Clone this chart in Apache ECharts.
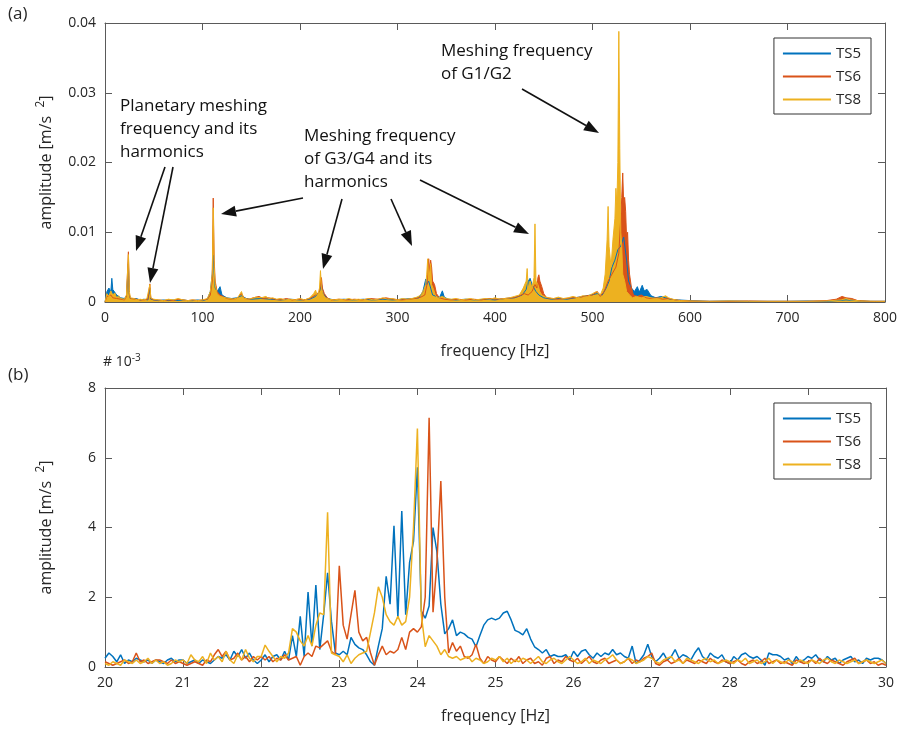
<!DOCTYPE html>
<html>
<head>
<meta charset="utf-8">
<script src="https://cdn.jsdelivr.net/npm/echarts@6/dist/echarts.min.js"></script>
<style>
  html, body { margin: 0; padding: 0; background: #fff; }
  #chart { width: 900px; height: 729px; }
</style>
</head>
<body>
<div id="chart"></div>
<script>
// colours of the three sensors
const colTS5 = '#0072BD', colTS6 = '#D95319', colTS8 = '#EDB120';
const names = ['TS5', 'TS6', 'TS8'];

// (a) spectrum 0-800 Hz, pairs [freq Hz, amplitude x1e-3 m/s^2]
const topTS5 = [[0,0],[2,1.5],[4,2.0],[6,1.5],[7,3.4],[8,1.8],[10,2.0],[12,1.0],[14,1.2],[16,0.6],[18,0.8],[20,0.5],[22,0.9],[24,5.5],[25,1.0],[26,0.5],[28,0.4],[32,0.5],[36,0.3],[40,0.4],[44,0.3],[46,2.0],[47,0.4],[50,0.3],[55,0.2],[60,0.3],[65,0.2],[70,0.3],[75,0.2],[80,0.3],[85,0.2],[90,0.2],[95,0.3],[100,0.2],[105,0.4],[108,1.5],[110,4],[111,6.7],[112,4],[113,2],[115,1.5],[118,2.2],[120,1.0],[125,0.6],[130,0.5],[135,0.6],[140,0.9],[145,0.5],[150,0.4],[160,0.5],[170,0.4],[180,0.3],[190,0.4],[200,0.3],[210,0.4],[216,0.8],[220,1.5],[222,2.5],[224,1.2],[228,0.5],[235,0.3],[245,0.4],[255,0.3],[265,0.4],[275,0.3],[285,0.4],[295,0.3],[305,0.4],[315,0.5],[322,0.6],[326,1.5],[329,3.3],[330,2.5],[332,3.0],[334,2.0],[336,1.0],[340,0.8],[343,0.6],[346,1.6],[348,0.7],[352,0.4],[360,0.3],[370,0.4],[380,0.3],[390,0.4],[400,0.3],[410,0.5],[420,0.6],[428,1.0],[432,1.8],[434,3.0],[436,3.4],[438,2.5],[440,2.0],[442,1.5],[445,1.0],[450,0.6],[458,0.4],[466,0.5],[474,0.4],[482,0.6],[490,0.8],[498,1.0],[505,1.2],[510,1.0],[514,2.0],[517,3],[520,5],[523,6],[526,7.5],[529,8],[532,9.3],[535,6],[537,3],[540,2.0],[543,1.5],[546,2.2],[548,1.4],[551,2.4],[553,1.6],[556,1.8],[560,0.9],[565,0.6],[570,0.8],[575,0.6],[580,0.4],[588,0.3],[600,0.2],[620,0.1],[640,0.15],[660,0.1],[680,0.1],[700,0.1],[720,0.15],[740,0.1],[760,0.3],[770,0.2],[785,0.1],[800,0.1]];
const topTS6 = [[0,0],[2,0.8],[4,0.6],[6,1.0],[8,0.6],[10,0.8],[12,0.5],[14,0.6],[16,0.4],[18,0.5],[20,0.3],[22,0.8],[24,7.2],[25,1.2],[26,0.5],[28,0.3],[32,0.4],[36,0.3],[40,0.3],[44,0.4],[46,2.6],[47,0.5],[50,0.3],[55,0.3],[60,0.2],[65,0.3],[70,0.2],[75,0.4],[80,0.3],[85,0.2],[90,0.3],[95,0.2],[100,0.3],[105,0.4],[108,1.0],[110,3],[111,14.9],[112,6],[113,3],[115,1.5],[118,1.0],[120,0.8],[125,0.5],[130,0.4],[135,0.5],[140,1.2],[143,0.5],[148,0.4],[152,0.6],[158,0.8],[162,0.5],[168,0.6],[174,0.4],[180,0.3],[186,0.5],[192,0.3],[198,0.4],[204,0.3],[210,0.5],[216,1.0],[220,1.5],[222,3.5],[223,2.0],[225,1.2],[228,0.6],[232,0.3],[240,0.4],[248,0.3],[256,0.4],[264,0.3],[272,0.5],[280,0.4],[288,0.6],[296,0.4],[304,0.3],[312,0.4],[318,0.5],[324,0.7],[328,1.0],[331,3],[332,6.2],[333,4.5],[334,6.0],[335,5.0],[336,3.0],[338,2.5],[340,1.2],[343,0.6],[348,0.4],[355,0.3],[362,0.4],[370,0.3],[378,0.4],[386,0.3],[394,0.5],[402,0.4],[410,0.5],[418,0.6],[424,0.8],[430,1.2],[434,1.0],[438,1.5],[441,2.5],[443,2.0],[444,3.5],[445,3.9],[446,3.0],[448,2.2],[450,1.2],[453,0.6],[458,0.5],[465,0.4],[472,0.5],[480,0.6],[488,0.7],[494,0.9],[500,1.0],[505,1.5],[508,0.8],[512,1.5],[516,3],[520,4],[524,5],[527,7],[529,12],[530,15],[531,18.5],[532,14],[533,15],[534,13],[535,9],[536,10],[537,6],[538,4],[540,2],[542,1.0],[546,0.8],[550,1.0],[555,0.6],[560,0.5],[566,0.6],[572,0.4],[578,0.5],[585,0.3],[592,0.2],[600,0.15],[620,0.1],[640,0.1],[660,0.15],[680,0.1],[700,0.1],[720,0.1],[740,0.2],[750,0.4],[756,0.8],[760,0.6],[766,0.5],[772,0.2],[785,0.1],[800,0.1]];
const topTS8 = [[0,0],[2,1.2],[4,0.8],[6,1.6],[8,1.0],[10,1.3],[12,0.6],[14,0.9],[16,0.5],[18,0.7],[20,0.4],[22,1.0],[24,6.8],[25,1.5],[26,0.6],[28,0.4],[30,0.5],[33,0.3],[36,0.4],[40,0.3],[43,0.5],[46,2.5],[47,0.6],[50,0.4],[55,0.3],[60,0.2],[65,0.4],[70,0.3],[75,0.5],[80,0.3],[85,0.2],[90,0.3],[95,0.2],[100,0.3],[105,0.5],[108,1.5],[110,4],[111,13.5],[112,5],[113,2.5],[115,1.2],[118,0.8],[120,1.0],[124,0.6],[128,0.5],[132,0.4],[136,0.6],[140,1.5],[142,0.6],[146,0.4],[150,0.5],[155,0.7],[160,0.6],[165,0.8],[168,0.5],[172,0.6],[176,0.4],[180,0.5],[185,0.3],[190,0.4],[195,0.3],[200,0.5],[205,0.3],[210,0.6],[214,1.2],[216,1.7],[218,0.8],[220,2.0],[221,4.5],[222,2.0],[224,1.0],[226,0.6],[230,0.4],[235,0.3],[240,0.4],[245,0.3],[250,0.5],[255,0.3],[260,0.4],[265,0.3],[270,0.5],[275,0.3],[280,0.4],[285,0.6],[290,0.4],[295,0.5],[300,0.3],[305,0.5],[310,0.4],[315,0.5],[320,0.7],[324,1.0],[327,1.8],[329,2.5],[330,4.0],[331,6.2],[332,3.0],[334,5.5],[335,2.5],[337,1.8],[339,0.9],[342,0.6],[346,0.8],[350,0.5],[355,0.4],[360,0.5],[365,0.3],[370,0.4],[375,0.5],[380,0.3],[385,0.4],[390,0.5],[395,0.4],[400,0.6],[405,0.4],[410,0.5],[415,0.6],[420,0.8],[425,1.0],[429,2.0],[432,3.0],[433,4.8],[434,2.0],[436,3.0],[438,2.0],[440,3.5],[441,11.2],[442,3.0],[444,2.5],[446,1.5],[448,1.0],[452,0.7],[456,0.6],[460,0.5],[465,0.7],[470,0.5],[475,0.6],[480,0.8],[485,0.6],[490,0.9],[495,0.8],[500,1.2],[504,1.5],[508,1.0],[511,2.0],[513,4.0],[515,9],[516,13.7],[517,8],[519,5],[521,9],[523,12],[524,16.3],[525,14],[526,20],[527,38.8],[528,22],[529,10],[530,8],[531,4],[533,3],[535,1.5],[538,1.0],[541,0.6],[545,0.8],[550,0.6],[555,0.8],[560,0.6],[565,0.5],[570,0.6],[575,0.9],[578,0.6],[582,0.4],[586,0.3],[590,0.2],[600,0.15],[620,0.1],[640,0.15],[660,0.1],[680,0.1],[700,0.1],[720,0.1],[740,0.15],[755,0.3],[760,0.5],[765,0.3],[775,0.15],[790,0.1],[800,0.1]];

// (b) zoom 20-30 Hz, one value every 0.05 Hz, amplitude x1e-3 m/s^2
const fStart = 20, fStep = 0.05;
const botTS5 = [
  0.25,0.4,0.3,0.15,0.35,0.1,0.2,0.15,0.25,0.2,0.15,0.2,0.1,0.2,0.15,0.1,0.2,0.25,0.15,0.2,
  0.2,0.1,0.15,0.2,0.1,0.2,0.15,0.1,0.2,0.3,0.25,0.35,0.2,0.45,0.3,0.5,0.25,0.4,0.2,0.1,
  0.2,0.35,0.15,0.3,0.35,0.2,0.45,0.2,0.9,0.3,1.45,0.3,2.15,0.6,2.35,0.5,1.5,2.7,1.3,0.4,
  0.35,0.45,0.35,0.85,0.65,0.55,0.5,0.35,0.15,0.05,0.6,1.1,2.6,1.8,4.05,1.4,4.47,1.5,3.0,3.6,
  5.73,1.6,1.4,1.75,4.0,3.3,1.8,0.95,1.1,1.35,0.9,1.0,0.95,0.85,0.8,0.58,0.9,1.2,1.35,1.4,
  1.35,1.4,1.55,1.6,1.35,1.05,1.0,0.92,1.1,0.8,0.58,0.5,0.4,0.5,0.3,0.35,0.3,0.3,0.35,0.2,
  0.45,0.3,0.45,0.5,0.35,0.25,0.4,0.3,0.4,0.35,0.5,0.35,0.4,0.3,0.25,0.6,0.1,0.2,0.35,0.65,
  0.3,0.15,0.25,0.4,0.2,0.3,0.5,0.25,0.35,0.3,0.2,0.4,0.55,0.3,0.2,0.4,0.3,0.25,0.35,0.15,
  0.1,0.3,0.2,0.35,0.4,0.3,0.25,0.3,0.2,0.05,0.4,0.35,0.35,0.3,0.2,0.25,0.1,0.3,0.15,0.2,
  0.3,0.25,0.35,0.2,0.15,0.3,0.2,0.25,0.1,0.2,0.25,0.3,0.15,0.2,0.1,0.25,0.2,0.25,0.25,0.2,
  0.1];
const botTS6 = [
  0.15,0.1,0.05,0.1,0.15,0.2,0.1,0.15,0.4,0.15,0.2,0.1,0.15,0.2,0.2,0.15,0.1,0.2,0.1,0.15,
  0.1,0.05,0.1,0.15,0.1,0.05,0.2,0.15,0.35,0.5,0.3,0.45,0.2,0.25,0.4,0.2,0.3,0.15,0.3,0.2,
  0.3,0.2,0.3,0.15,0.25,0.2,0.35,0.2,0.25,0.3,0.05,0.3,0.4,0.3,0.6,0.55,0.65,0.75,0.45,0.35,
  2.9,1.2,0.8,1.5,2.2,1.0,0.75,0.85,0.4,0.05,0.35,0.6,0.35,0.45,0.4,0.5,0.85,0.5,1.0,1.1,
  1.0,1.15,2.0,7.15,1.57,3.0,5.33,2.0,0.4,0.7,0.45,0.6,0.3,0.25,0.35,0.65,0.25,0.1,0.3,0.2,
  0.15,0.3,0.2,0.1,0.25,0.15,0.3,0.1,0.2,0.25,0.1,0.15,0.05,0.25,0.3,0.1,0.2,0.15,0.3,0.2,
  0.15,0.25,0.1,0.2,0.3,0.15,0.1,0.2,0.25,0.1,0.15,0.2,0.1,0.15,0.25,0.1,0.2,0.15,0.25,0.3,
  0.4,0.1,0.05,0.15,0.2,0.1,0.15,0.25,0.1,0.2,0.15,0.1,0.2,0.15,0.1,0.25,0.15,0.1,0.2,0.15,
  0.1,0.15,0.2,0.1,0.05,0.15,0.2,0.1,0.15,0.25,0.1,0.15,0.2,0.1,0.15,0.1,0.05,0.2,0.15,0.1,
  0.15,0.2,0.1,0.25,0.15,0.1,0.2,0.15,0.1,0.05,0.15,0.2,0.25,0.1,0.15,0.2,0.1,0.15,0.05,0.1,
  0.05];
const botTS8 = [
  0.1,0.05,0.15,0.1,0.05,0.2,0.15,0.1,0.2,0.1,0.15,0.25,0.1,0.2,0.1,0.15,0.05,0.1,0.2,0.15,
  0.2,0.1,0.35,0.2,0.15,0.3,0.1,0.4,0.2,0.3,0.15,0.45,0.2,0.1,0.35,0.2,0.5,0.25,0.15,0.3,
  0.3,0.63,0.45,0.3,0.15,0.3,0.25,0.4,1.1,1.0,0.75,0.6,0.9,0.6,1.2,1.55,1.5,4.44,0.4,0.35,
  0.3,0.15,0.35,0.1,0.25,0.35,0.4,0.45,1.0,1.55,2.3,2.0,1.5,1.3,1.2,1.45,1.2,1.3,2.0,4.0,
  6.84,1.5,0.58,0.9,0.75,0.6,0.35,0.5,0.3,0.25,0.3,0.2,0.25,0.3,0.15,0.25,0.2,0.1,0.15,0.25,
  0.2,0.3,0.15,0.25,0.1,0.2,0.15,0.25,0.2,0.1,0.2,0.3,0.15,0.1,0.2,0.25,0.15,0.1,0.2,0.3,
  0.2,0.1,0.15,0.25,0.1,0.2,0.15,0.1,0.2,0.25,0.35,0.2,0.1,0.15,0.25,0.2,0.1,0.15,0.2,0.3,
  0.25,0.15,0.1,0.2,0.25,0.3,0.15,0.2,0.1,0.25,0.2,0.15,0.1,0.2,0.25,0.15,0.2,0.1,0.15,0.2,
  0.15,0.1,0.2,0.15,0.25,0.1,0.15,0.2,0.1,0.15,0.25,0.1,0.2,0.15,0.1,0.2,0.15,0.1,0.2,0.15,
  0.1,0.2,0.15,0.1,0.2,0.25,0.15,0.1,0.2,0.15,0.1,0.15,0.2,0.1,0.15,0.2,0.15,0.1,0.15,0.2,
  0.1];

// pair the 0.05 Hz frequency grid with the values
function withFreq(vals) {
  return vals.map((v, i) => [+(fStart + i * fStep).toFixed(2), v]);
}

const font = 'Open Sans';
const txt = '#262626';
const axCol = '#5a5a5a';

function xAx(grid, min, max, step, pos, withName) {
  return {
    gridIndex: grid, type: 'value', min: min, max: max, interval: step, position: pos,
    axisLine: { show: true, onZero: false, lineStyle: { color: axCol, width: 1 } },
    axisTick: { show: true, inside: true, length: 7, lineStyle: { color: axCol } },
    axisLabel: { show: withName, margin: 9, color: txt, fontFamily: font, fontSize: 14 },
    splitLine: { show: false },
    name: withName ? 'frequency [Hz]' : '', nameLocation: 'middle', nameGap: 41,
    nameTextStyle: { color: txt, fontFamily: font, fontSize: 16 }
  };
}
function yAx(grid, min, max, step, pos, withName, fmt) {
  return {
    gridIndex: grid, type: 'value', min: min, max: max, interval: step, position: pos,
    axisLine: { show: true, onZero: false, lineStyle: { color: axCol, width: 1 } },
    axisTick: { show: true, inside: true, length: 7, lineStyle: { color: axCol } },
    axisLabel: { show: withName, margin: 9, color: txt, fontFamily: font, fontSize: 14, formatter: fmt },
    splitLine: { show: false },
    name: withName ? 'amplitude [m/s  {s|2}]' : '', nameLocation: 'middle', nameGap: 48, nameRotate: 90,
    nameTextStyle: { color: txt, fontFamily: font, fontSize: 16,
      rich: { s: { fontSize: 12, color: txt, fontFamily: font, verticalAlign: 'top', padding: [0, 0, 10, 0] } } }
  };
}

function legendAt(top) {
  return {
    data: names, orient: 'vertical', right: 29, top: top,
    icon: 'rect', itemWidth: 48, itemHeight: 2, itemGap: 8,
    borderColor: '#333', borderWidth: 1, borderRadius: 0,
    padding: [8, 10, 7, 9], backgroundColor: '#fff',
    textStyle: { color: txt, fontFamily: font, fontSize: 15 }
  };
}

function areaLine(name, data, color) {
  return {
    name: name, type: 'line', xAxisIndex: 0, yAxisIndex: 0, data: data,
    showSymbol: false, animation: false, itemStyle: { color: color },
    lineStyle: { color: color, width: 1 }, areaStyle: { color: color, opacity: 1 }
  };
}
function plainLine(name, vals, color) {
  return {
    name: name, type: 'line', xAxisIndex: 2, yAxisIndex: 2, data: withFreq(vals),
    showSymbol: false, animation: false, itemStyle: { color: color },
    lineStyle: { color: color, width: 1.5 }
  };
}

// annotation arrows, pixel coordinates
function arrow(x1, y1, x2, y2) {
  const a = Math.atan2(y2 - y1, x2 - x1), L = 15, W = 5.5;
  const bx = x2 - L * Math.cos(a), by = y2 - L * Math.sin(a);
  const px = -Math.sin(a) * W, py = Math.cos(a) * W;
  return [
    { type: 'line', shape: { x1: x1, y1: y1, x2: bx, y2: by }, style: { stroke: '#111', lineWidth: 1.6 } },
    { type: 'polygon', shape: { points: [[x2, y2], [bx + px, by + py], [bx - px, by - py]] }, style: { fill: '#111' } }
  ];
}
function note(x, y, s) {
  return { type: 'text', left: x, top: y, style: { text: s, fill: '#111', font: '17px "' + font + '"', lineHeight: 23 } };
}

const graphics = [
  { type: 'text', left: 8, top: 6, style: { text: '(a)', fill: txt, font: '17px "' + font + '"' } },
  { type: 'text', left: 8, top: 367, style: { text: '(b)', fill: txt, font: '17px "' + font + '"' } },
  { type: 'text', left: 103, top: 353, style: { rich: { b: { fontSize: 14, fontFamily: font, fill: txt }, s: { fontSize: 10, fontFamily: font, fill: txt, verticalAlign: 'top', padding: [0, 0, 8, 0] } }, text: '{b|# 10}{s|-3}' } },
  note(120, 95, 'Planetary meshing\nfrequency and its\nharmonics'),
  note(304, 125, 'Meshing frequency\nof G3/G4 and its\nharmonics'),
  note(441, 40, 'Meshing frequency\nof G1/G2'),
  ...arrow(165, 167, 136, 251),
  ...arrow(173, 167, 150, 283),
  ...arrow(303, 198, 221, 214),
  ...arrow(342, 199, 323, 269),
  ...arrow(391, 199, 412, 246),
  ...arrow(420, 180, 529, 234),
  ...arrow(522, 89, 599, 133)
];

const chart = echarts.init(document.getElementById('chart'), null, { renderer: 'canvas' });
chart.setOption({
  animation: false,
  backgroundColor: '#fff',
  grid: [
    { left: 105, right: 14, top: 23, height: 279 },
    { left: 105, right: 14, top: 388, height: 279 }
  ],
  xAxis: [
    xAx(0, 0, 800, 100, 'bottom', true),
    xAx(0, 0, 800, 100, 'top', false),
    xAx(1, 20, 30, 1, 'bottom', true),
    xAx(1, 20, 30, 1, 'top', false)
  ],
  yAxis: [
    yAx(0, 0, 40, 10, 'left', true, v => v === 0 ? '0' : String(v / 1000)),
    yAx(0, 0, 40, 10, 'right', false),
    yAx(1, 0, 8, 2, 'left', true),
    yAx(1, 0, 8, 2, 'right', false)
  ],
  legend: [legendAt(38), legendAt(403)],
  series: [
    areaLine('TS5', topTS5, colTS5),
    areaLine('TS6', topTS6, colTS6),
    areaLine('TS8', topTS8, colTS8),
    plainLine('TS5', botTS5, colTS5),
    plainLine('TS6', botTS6, colTS6),
    plainLine('TS8', botTS8, colTS8)
  ],
  graphic: graphics
});
</script>
</body>
</html>
